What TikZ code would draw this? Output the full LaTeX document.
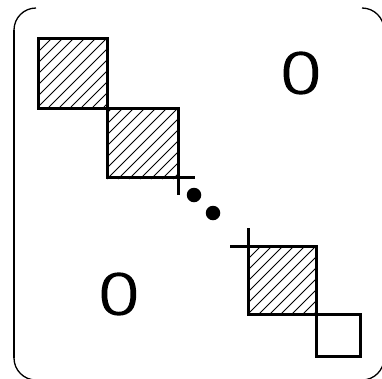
\documentclass[tikz,border=0pt]{standalone}
\usepackage{fontspec}
\newfontfamily\zerofont{DejaVu Sans ExtraLight}[FakeBold=3]
\begin{document}
\begin{tikzpicture}[x=1pt,y=-1pt,
  edge/.style={line width=3pt,line cap=butt},
  hatchline/.style={line width=0.9pt},
  frame/.style={line width=1.3pt},
  dotmark/.style={circle,fill=black,inner sep=0pt,minimum size=14.5pt},
  zero/.style={inner sep=0pt,font=\zerofont\fontsize{55}{55}\selectfont,xscale=1.3}]
\useasboundingbox (0,0) rectangle (382,378);
% frame (left side and corners)
\draw[frame] (14,30) -- (14,358);
\draw[frame] (14,30) arc[start angle=180,end angle=270,radius=22];
\draw[frame] (362,8) arc[start angle=270,end angle=360,radius=22];
\draw[frame] (14,358) arc[start angle=180,end angle=90,radius=22];
\draw[frame] (384,358) arc[start angle=0,end angle=90,radius=22];
% hatched squares
\foreach \xa/\ya/\s in {38/38/69, 107/108/71, 248/246/68} {
  \begin{scope}
    \clip (\xa,\ya) rectangle ++(\s,\s);
    \foreach \i in {-77,-66,...,80} {
      \draw[hatchline] (\xa+\i,\ya+\s) -- ++(\s,-\s);
    }
  \end{scope}
}
\draw[edge] (38,38) rectangle (107,108);
\draw[edge] (107,108) rectangle (178,177);
\draw[edge] (248,246) rectangle (316,314);
\draw[edge] (316,314) rectangle (360,356);
% extensions
\draw[edge] (178,177) -- (195,177);
\draw[edge] (178,177) -- (178,195);
\draw[edge] (230,246) -- (248,246);
\draw[edge] (248,228) -- (248,246);
% dots
\node[dotmark] (d1) at (194,195) {};
\node[dotmark] (d2) at (213,213) {};
% zeros
\node[zero] (z1) at (301,73) {0};
\node[zero] (z2) at (119,294) {0};
\end{tikzpicture}
\end{document}
